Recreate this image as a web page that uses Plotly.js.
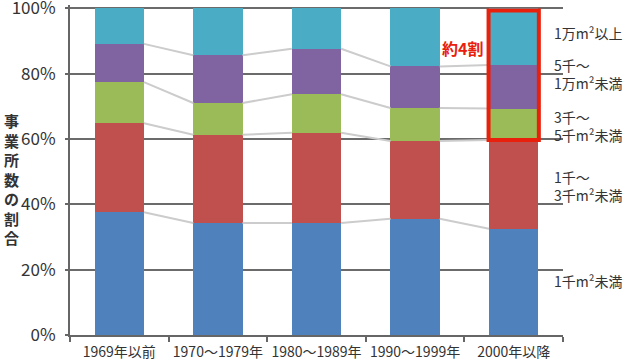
<!DOCTYPE html>
<html>
<head>
<meta charset="utf-8">
<script src="https://cdn.plot.ly/plotly-3.0.1.min.js"></script>
<style>html,body{margin:0;padding:0;background:#fff;}#chart{width:630px;height:364px;}</style>
</head>
<body>
<div id="chart"></div>
<script>
const categories = ['1969年以前', '1970～1979年', '1980～1989年', '1990～1999年', '2000年以降'];
const seriesNames = ['1千m²未満', '1千～3千m²未満', '3千～5千m²未満', '5千～1万m²未満', '1万m²以上'];
const lt1k   = [37.6, 34.3, 34.3, 35.6, 32.5];
const k1to3  = [27.2, 27.0, 27.6, 23.8, 27.2];
const k3to5  = [12.6,  9.7, 11.8, 10.1,  9.6];
const k5to10 = [11.7, 14.6, 13.9, 12.7, 13.3];
const ge10k  = [10.9, 14.4, 12.4, 17.8, 17.4];
const yTicks = [0, 20, 40, 60, 80, 100];
const yTickText = ['0%', '20%', '40%', '60%', '80%', '100%'];
const colors = ['#4F81BD', '#C0504D', '#9BBB59', '#8064A2', '#4BACC6'];

const series = [lt1k, k1to3, k3to5, k5to10, ge10k];
const idx = categories.map((c, i) => i);
const font = 'Noto Sans CJK JP, Noto Sans, sans-serif';

const traces = series.map((vals, s) => ({
  type: 'bar', x: idx, y: vals, name: seriesNames[s], width: 0.5,
  marker: {color: colors[s], line: {width: 0}}, hoverinfo: 'skip'
}));

// cumulative boundaries
const cum = [];
let run = idx.map(() => 0);
series.forEach(vals => { run = run.map((r, i) => r + vals[i]); cum.push(run.slice()); });

const cx = [], cy = [];
for (let k = 0; k < 4; k++) {
  for (let i = 0; i < categories.length - 1; i++) {
    cx.push(i + 0.25, i + 0.75, null);
    cy.push(cum[k][i], cum[k][i + 1], null);
  }
}
traces.push({type: 'scatter', mode: 'lines', x: cx, y: cy, line: {color: '#cccccc', width: 2},
  hoverinfo: 'skip', showlegend: false});

const last = categories.length - 1;
const labelY = [16.5, 45.6, 63.9, 79.8, 92.4];
const labelText = ['1千m²未満', '1千～<br>3千m²未満', '3千～<br>5千m²未満', '5千～<br>1万m²未満', '1万m²以上'];
const annotations = labelText.map((t, s) => ({
  xref: 'x', yref: 'y', x: 4.39, y: labelY[s], xanchor: 'left', yanchor: 'middle', align: 'left',
  text: t, showarrow: false, font: {family: font, size: 14, color: '#333'}
}));
annotations.push({xref: 'x', yref: 'y', x: 3.48, y: 87.8, text: '<b>約4割</b>', showarrow: false,
  font: {family: font, size: 16, color: '#E8200C'}});
annotations.push({xref: 'paper', yref: 'paper', x: -0.118, y: 0.474, xanchor: 'center', yanchor: 'middle',
  text: '<b>事<br>業<br>所<br>数<br>の<br>割<br>合</b>', showarrow: false,
  font: {family: font, size: 15, color: '#333'}});

const layout = {
  width: 630, height: 364,
  margin: {l: 70, r: 67, t: 5, b: 29},
  paper_bgcolor: '#fff', plot_bgcolor: '#fff',
  barmode: 'stack', showlegend: false,
  font: {family: font, color: '#333'},
  xaxis: {
    range: [-0.5, 4.5], tickvals: idx, ticktext: categories, ticks: '', ticklen: 0,
    showgrid: false, zeroline: false, showline: true, linecolor: '#666', linewidth: 2,
    tickfont: {family: font, size: 14, color: '#333'}, ticklabelstandoff: 3, ticklabeloverflow: 'allow',
    minor: {tickvals: [-0.5, 0.5, 1.5, 2.5, 3.5, 4.5], ticks: 'outside', ticklen: 5, tickwidth: 2, tickcolor: '#666', showgrid: false},
    fixedrange: true
  },
  yaxis: {
    range: [0, 101], tickmode: 'array', tickvals: yTicks, ticktext: yTickText, ticks: 'outside', ticklen: 3, tickwidth: 2, tickcolor: '#666',
    showgrid: true, gridcolor: '#6b6b6b', gridwidth: 2, zeroline: false,
    showline: true, linecolor: '#666', linewidth: 2, ticklabeloverflow: 'allow',
    tickfont: {family: font, size: 17, color: '#333'}, ticklabelstandoff: 6, fixedrange: true
  },
  shapes: [{
    type: 'rect', xref: 'x', yref: 'y', x0: last - 0.255, x1: last + 0.255,
    y0: cum[1][last], y1: 99.3, line: {color: '#E8200C', width: 4}, layer: 'above'
  }],
  annotations: annotations
};

Plotly.newPlot('chart', traces, layout, {displayModeBar: false, staticPlot: true});
</script>
</body>
</html>
